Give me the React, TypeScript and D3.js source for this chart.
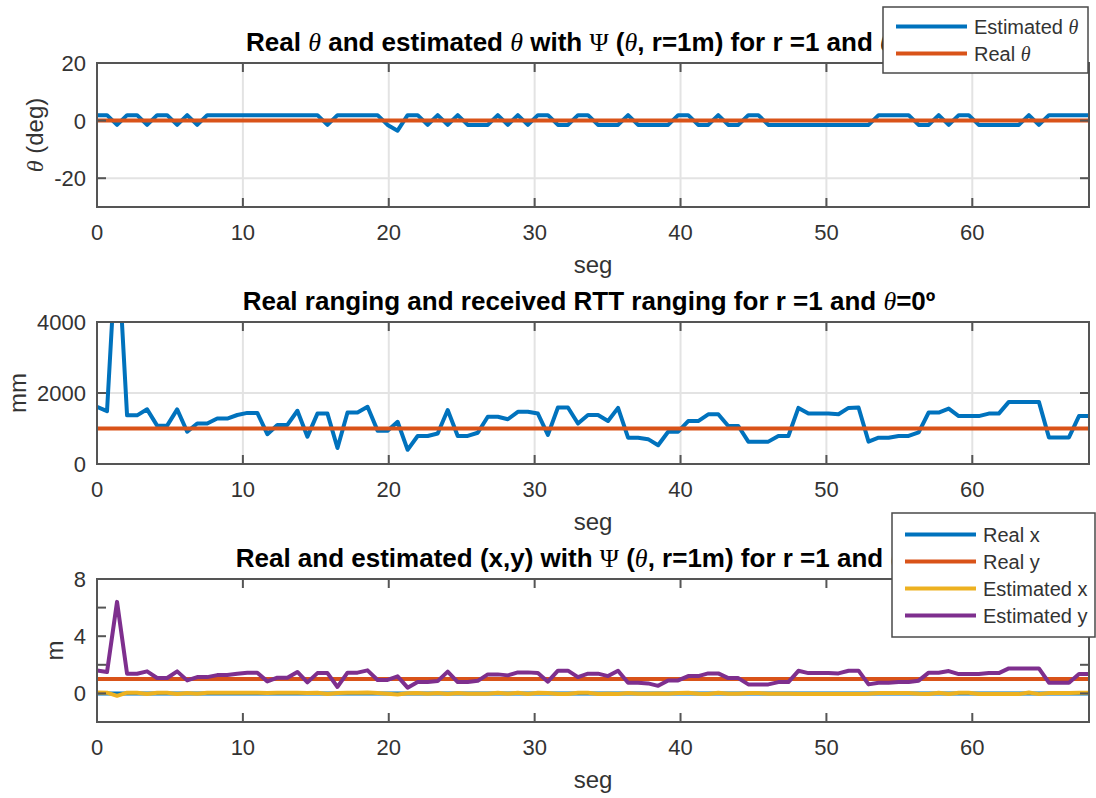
import React from 'react';
import * as d3 from 'd3';

// ---------- data ----------
const segMax = 68;
const xTicks = [0, 10, 20, 30, 40, 50, 60];

// panel 1: estimated theta (deg), real theta = 0
const thetaEst = [
  1.9, 1.9, -1.5, 1.9, 1.9, -1.5, 1.9, 1.9, -1.5, 1.9,
  -1.5, 1.9, 1.9, 1.9, 1.9, 1.9, 1.9, 1.9, 1.9, 1.9,
  1.9, 1.9, 1.9, -1.5, 1.9, 1.9, 1.9, 1.9, 1.9, -1.5,
  -3.5, 1.9, 1.9, -1.5, 1.9, -1.5, 1.9, -1.5, -1.5, -1.5,
  1.9, -1.5, 1.9, -1.5, 1.9, 1.9, -1.5, -1.5, 1.9, 1.9,
  -1.5, -1.5, -1.5, 1.9, -1.5, -1.5, -1.5, -1.5, 1.9, 1.9,
  -1.5, -1.5, 1.9, -1.5, -1.5, 1.9, 1.9, -1.5, -1.5, -1.5,
  -1.5, -1.5, -1.5, -1.5, -1.5, -1.5, -1.5, -1.5, 1.9, 1.9,
  1.9, 1.9, -1.5, -1.5, 1.9, -1.5, 1.9, 1.9, -1.5, -1.5,
  -1.5, -1.5, -1.5, 1.9, -1.5, 1.9, 1.9, 1.9, 1.9, 1.9,
];
const thetaReal = 0;

// panel 2: received RTT ranging (mm), real ranging = 1000
const rangeMm = [
  1610, 1490, 6500, 1370, 1370, 1540, 1080, 1080, 1540, 910,
  1140, 1140, 1280, 1280, 1380, 1440, 1440, 840, 1100, 1100,
  1500, 770, 1420, 1420, 450, 1450, 1450, 1610, 940, 940,
  1190, 400, 790, 790, 860, 1520, 790, 790, 880, 1330,
  1330, 1260, 1470, 1470, 1420, 820, 1590, 1590, 1140, 1380,
  1380, 1210, 1580, 740, 740, 700, 530, 910, 910, 1210,
  1210, 1400, 1400, 1070, 1070, 630, 630, 630, 790, 790,
  1580, 1420, 1420, 1420, 1400, 1580, 1590, 630, 740, 740,
  790, 790, 890, 1450, 1450, 1560, 1350, 1350, 1350, 1420,
  1420, 1750, 1750, 1750, 1750, 750, 750, 750, 1350, 1350,
];
const rangeReal = 1000;

// panel 3: (x,y) in m
const realX = 0;
const realY = 1;
const estX = [
  0.06, 0.05, -0.17, 0.05, 0.05, -0.04, 0.04, 0.04, -0.04, 0.03,
  -0.03, 0.04, 0.04, 0.04, 0.05, 0.05, 0.05, 0.03, 0.04, 0.04,
  0.05, 0.03, 0.05, -0.04, 0.02, 0.05, 0.05, 0.06, 0.03, -0.02,
  -0.07, 0.01, 0.03, -0.02, 0.03, -0.04, 0.03, -0.02, -0.02, -0.03,
  0.05, -0.03, 0.05, -0.04, 0.05, 0.03, -0.04, -0.04, 0.04, 0.05,
  -0.04, -0.03, -0.04, 0.03, -0.02, -0.02, -0.01, -0.02, 0.03, 0.04,
  -0.03, -0.04, 0.05, -0.03, -0.03, 0.02, 0.02, -0.02, -0.02, -0.02,
  -0.04, -0.04, -0.04, -0.04, -0.04, -0.04, -0.04, -0.02, 0.03, 0.03,
  0.03, 0.03, -0.02, -0.04, 0.05, -0.04, 0.05, 0.05, -0.04, -0.04,
  -0.04, -0.05, -0.05, 0.06, -0.05, 0.03, 0.03, 0.03, 0.05, 0.05,
];
const estY = [
  1.61, 1.49, 6.4, 1.37, 1.37, 1.54, 1.08, 1.08, 1.54, 0.91,
  1.14, 1.14, 1.28, 1.28, 1.38, 1.44, 1.44, 0.84, 1.10, 1.10,
  1.50, 0.77, 1.42, 1.42, 0.45, 1.45, 1.45, 1.61, 0.94, 0.94,
  1.19, 0.40, 0.79, 0.79, 0.86, 1.52, 0.79, 0.79, 0.88, 1.33,
  1.33, 1.26, 1.47, 1.47, 1.42, 0.82, 1.59, 1.59, 1.14, 1.38,
  1.38, 1.21, 1.58, 0.74, 0.74, 0.70, 0.53, 0.91, 0.91, 1.21,
  1.21, 1.40, 1.40, 1.07, 1.07, 0.63, 0.63, 0.63, 0.79, 0.79,
  1.58, 1.42, 1.42, 1.42, 1.40, 1.58, 1.59, 0.63, 0.74, 0.74,
  0.79, 0.79, 0.89, 1.45, 1.45, 1.56, 1.35, 1.35, 1.35, 1.42,
  1.42, 1.75, 1.75, 1.75, 1.75, 0.75, 0.75, 0.75, 1.35, 1.35,
];

const yTicks1 = [-20, 0, 20];
const yLabels1 = [-20, 0, 20];
const yTicks2 = [0, 2000, 4000];
const yLabels2 = [0, 2000, 4000];
const yTicks3 = [-2, 0, 2, 4, 6, 8];
const yLabels3 = [0, 4, 8];

// ---------- style ----------
const W = 1096;
const H = 798;
const X0 = 97;
const X1 = 1089;
const FONT = '"Liberation Sans", Arial, Helvetica, sans-serif';
const GREEK = '"Liberation Serif", "DejaVu Serif", serif';
const C_BLUE = '#0072BD';
const C_ORANGE = '#D95319';
const C_YELLOW = '#EDB120';
const C_PURPLE = '#7E2F8E';
const AX = '#555555';
const TXT = '#333333';
const LW = 4;

const Th = () => (
  <tspan fontFamily={GREEK} fontStyle="italic" fontWeight="normal">θ</tspan>
);

type Series = { values?: number[]; constant?: number; color: string };

function Panel(props: {
  id: string;
  top: number;
  bottom: number;
  yDomain: [number, number];
  yTicks: number[];
  yLabels: number[];
  grid: boolean;
  title: React.ReactNode;
  ylabel: React.ReactNode;
  ylabelX: number;
  series: Series[];
}) {
  const { id, top, bottom, yDomain, yTicks, yLabels, grid, title, ylabel, ylabelX, series } = props;
  const x = d3.scaleLinear().domain([0, segMax]).range([X0, X1]);
  const y = d3.scaleLinear().domain(yDomain).range([bottom, top]);
  const TL = 9;
  const paths = series.map((s) => {
    if (s.values) {
      const n = s.values.length;
      const gen = d3
        .line<number>()
        .x((_, i) => x((i * segMax) / (n - 1)))
        .y((d) => y(d));
      return gen(s.values) || '';
    }
    const v = s.constant as number;
    return d3.line<number>().x((d) => x(d)).y(() => y(v))([0, segMax]) || '';
  });
  return (
    <g>
      <defs>
        <clipPath id={`clip-${id}`}>
          <rect x={X0} y={top} width={X1 - X0} height={bottom - top} />
        </clipPath>
      </defs>
      {grid && (
        <g stroke="#e3e3e3" strokeWidth={2}>
          {xTicks.filter((t) => t > 0).map((t) => (
            <line key={`gx${t}`} x1={x(t)} x2={x(t)} y1={top} y2={bottom} />
          ))}
          {yTicks.map((t) => (
            <line key={`gy${t}`} x1={X0} x2={X1} y1={y(t)} y2={y(t)} />
          ))}
        </g>
      )}
      <g clipPath={`url(#clip-${id})`} fill="none" strokeWidth={LW} strokeLinejoin="round">
        {series.map((s, i) => (
          <path key={i} d={paths[i]} stroke={s.color} />
        ))}
      </g>
      <g stroke={AX} strokeWidth={2} fill="none">
        <rect x={X0} y={top} width={X1 - X0} height={bottom - top} />
        {xTicks.map((t) => (
          <g key={`tx${t}`}>
            <line x1={x(t)} x2={x(t)} y1={bottom} y2={bottom - TL} />
            <line x1={x(t)} x2={x(t)} y1={top} y2={top + TL} />
          </g>
        ))}
        {yTicks.map((t) => (
          <g key={`ty${t}`}>
            <line x1={X0} x2={X0 + TL} y1={y(t)} y2={y(t)} />
            <line x1={X1} x2={X1 - TL} y1={y(t)} y2={y(t)} />
          </g>
        ))}
      </g>
      <g fontFamily={FONT} fontSize={22} fill={TXT}>
        {xTicks.map((t) => (
          <text key={`lx${t}`} x={x(t)} y={bottom + 33} textAnchor="middle">
            {t}
          </text>
        ))}
        {yLabels.map((t) => (
          <text key={`ly${t}`} x={X0 - 11} y={y(t)} dy="0.36em" textAnchor="end">
            {t}
          </text>
        ))}
        <text x={(X0 + X1) / 2} y={bottom + 66} textAnchor="middle" fontSize={24}>
          seg
        </text>
        <text
          transform={`translate(${ylabelX},${(top + bottom) / 2}) rotate(-90)`}
          textAnchor="middle"
          fontSize={24}
        >
          {ylabel}
        </text>
      </g>
      <text
        x={(X0 + X1) / 2 - 4}
        y={top - 12}
        textAnchor="middle"
        fontFamily={FONT}
        fontSize={26}
        fontWeight="bold"
        fill="#000"
      >
        {title}
      </text>
    </g>
  );
}

function Legend(props: {
  x: number;
  y: number;
  w: number;
  rowH: number;
  pad: number;
  items: { label: React.ReactNode; color: string }[];
}) {
  const { x, y, w, rowH, pad, items } = props;
  const h = pad * 2 + rowH * items.length;
  return (
    <g>
      <rect x={x} y={y} width={w} height={h} fill="#fff" stroke="#4a4a4a" strokeWidth={1.5} />
      {items.map((it, i) => {
        const cy = y + pad + rowH * i + rowH / 2;
        return (
          <g key={i}>
            <line x1={x + 13} x2={x + 84} y1={cy} y2={cy} stroke={it.color} strokeWidth={LW} />
            <text x={x + 91} y={cy} dy="0.36em" fontFamily={FONT} fontSize={20} fill={TXT}>
              {it.label}
            </text>
          </g>
        );
      })}
    </g>
  );
}

export default function App() {
  return (
    <svg
      width={W}
      height={H}
      viewBox={`0 0 ${W} ${H}`}
      style={{ position: 'absolute', left: 0, top: 0, background: '#fff' }}
    >
      <rect x={0} y={0} width={W} height={H} fill="#fff" />
      <Panel
        id="p1"
        top={63}
        bottom={207}
        yDomain={[-30, 20]}
        yTicks={yTicks1}
        yLabels={yLabels1}
        grid={true}
        title={
          <>
            Real <Th /> and estimated <Th /> with <tspan fontFamily={GREEK} fontWeight="normal">Ψ</tspan> (<Th />, r=1m) for r =1 and <Th />=0º
          </>
        }
        ylabel={
          <>
            <Th /> (deg)
          </>
        }
        ylabelX={43}
        series={[
          { values: thetaEst, color: C_BLUE },
          { constant: thetaReal, color: C_ORANGE },
        ]}
      />
      <Panel
        id="p2"
        top={322}
        bottom={464}
        yDomain={[0, 4000]}
        yTicks={yTicks2}
        yLabels={yLabels2}
        grid={true}
        title={
          <>
            Real ranging and received RTT ranging for r =1 and <Th />=0º
          </>
        }
        ylabel="mm"
        ylabelX={26}
        series={[
          { values: rangeMm, color: C_BLUE },
          { constant: rangeReal, color: C_ORANGE },
        ]}
      />
      <Panel
        id="p3"
        top={579}
        bottom={722}
        yDomain={[-2, 8]}
        yTicks={yTicks3}
        yLabels={yLabels3}
        grid={false}
        title={
          <>
            Real and estimated (x,y) with <tspan fontFamily={GREEK} fontWeight="normal">Ψ</tspan> (<Th />, r=1m) for r =1 and <Th />=0º
          </>
        }
        ylabel="m"
        ylabelX={63}
        series={[
          { constant: realX, color: C_BLUE },
          { constant: realY, color: C_ORANGE },
          { values: estX, color: C_YELLOW },
          { values: estY, color: C_PURPLE },
        ]}
      />
      <Legend
        x={883}
        y={7}
        w={205}
        rowH={27}
        pad={6}
        items={[
          { label: <>Estimated <Th /></>, color: C_BLUE },
          { label: <>Real <Th /></>, color: C_ORANGE },
        ]}
      />
      <Legend
        x={892}
        y={513}
        w={203}
        rowH={27}
        pad={8}
        items={[
          { label: 'Real x', color: C_BLUE },
          { label: 'Real y', color: C_ORANGE },
          { label: 'Estimated x', color: C_YELLOW },
          { label: 'Estimated y', color: C_PURPLE },
        ]}
      />
    </svg>
  );
}
